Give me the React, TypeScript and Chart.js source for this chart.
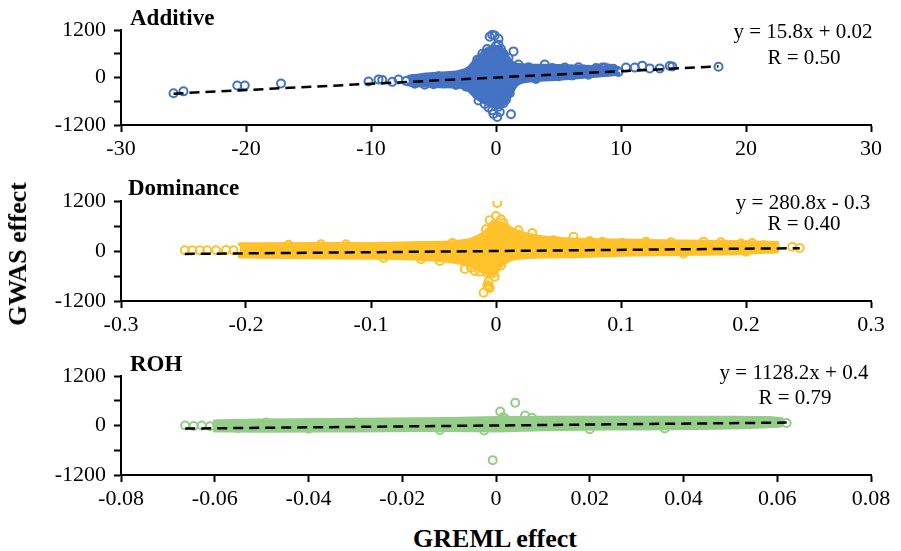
import React, { useEffect, useRef } from "react";
import { Chart, registerables } from "chart.js";

Chart.register(...registerables);

type Pt = [number, number];

const serif = "'Liberation Serif', 'Times New Roman', Times, serif";
Chart.defaults.font.family = serif;

// GWAS effect axis, shared by the three panels
const gwasTicks = [-1200, -600, 0, 600, 1200];
const gwasLabelled = [-1200, 0, 1200];

// ---------------- Additive ----------------
const additiveXTicks = [-30, -20, -10, 0, 10, 20, 30];
const additiveSlope = 15.8;
const additiveIntercept = 0.02;
const additiveR = 0.5;
const additivePoints: Pt[] = [
  [-25.8, -400], [-25.0, -350], [-20.7, -200], [-20.1, -200], [-17.2, -150],
  [-10.2, -100], [-9.4, -50], [-9.1, -60], [-8.3, -110], [-7.8, -50], [-7.2, -90],
  [-6.6, -40], [-6.5, -160], [-6.0, -60], [-5.7, -180], [-5.3, -20], [-5.0, -170],
  [-4.6, 30], [-4.2, -150], [-3.6, 40], [-3.2, -190], [-2.6, 80], [-2.4, -230],
  [-0.5, 1030], [-0.3, 1080], [-0.1, 1060], [0.2, 980], [0.2, 830], [1.4, 660],
  [-1.1, 600], [0.6, 600], [-0.7, 720], [0.0, 800], [0.4, 720], [-1.5, 450], [1.0, 500],
  [0.1, -1000], [1.2, -930], [-0.6, -760], [0.2, -740], [1.1, -400], [-1.4, -580],
  [-0.3, -830], [0.3, -870], [-0.9, -670], [0.6, -650], [0.8, -560], [-1.1, -480], [-0.2, -920],
  [1.8, 330], [2.6, 260], [3.2, -40], [3.9, 330], [4.5, 240], [5.0, 30], [5.5, 250],
  [6.1, 50], [6.6, 260], [7.0, 200], [7.4, 70], [8.0, 240], [8.2, 220], [8.5, 250],
  [8.7, 250], [9.0, 230], [9.4, 220], [9.8, 140], [10.4, 250], [11.1, 250], [11.7, 300],
  [12.3, 230], [13.1, 230], [13.9, 290], [14.1, 280], [17.8, 270],
];
// dense core of the cloud: x, upper edge, lower edge
const additiveCoreX = [-7.0, -6.0, -4.5, -3.0, -2.2, -1.7, -1.2, -0.7, -0.2, 0.3, 0.8, 1.2, 1.7, 3.0, 5.0, 7.0, 9.0, 9.8];
const additiveCoreHigh = [20, 60, 100, 140, 240, 420, 580, 720, 780, 760, 580, 400, 320, 300, 290, 270, 250, 240];
const additiveCoreLow = [-180, -200, -220, -230, -320, -470, -580, -660, -720, -720, -620, -400, -170, -70, -30, 20, 70, 100];

// ---------------- Dominance ----------------
const dominanceXTicks = [-0.3, -0.2, -0.1, 0, 0.1, 0.2, 0.3];
const dominanceSlope = 280.8;
const dominanceIntercept = -0.3;
const dominanceR = 0.4;
const dominancePoints: Pt[] = [
  [-0.249, 20], [-0.243, 20], [-0.237, 20], [-0.231, 20], [-0.224, 20], [-0.216, 25], [-0.21, 20],
  [-0.166, 150], [-0.14, 160], [-0.12, 160], [-0.09, -170], [-0.06, -200], [-0.045, -240], [-0.035, 190],
  [0.001, 1150], [0.0, 840], [-0.005, 740], [0.006, 670], [0.003, 580], [-0.002, 620], [0.004, 760],
  [-0.008, 520], [0.01, 450],
  [0.018, 500], [0.029, 430], [0.046, 260], [0.062, 340], [0.075, 240], [0.085, 220], [0.094, -40],
  [0.101, 200], [0.12, 220], [0.14, 210], [0.166, 220], [0.18, 210], [0.196, 180], [0.205, 190],
  [0.214, 140], [0.223, 120], [0.237, 100], [0.243, 70], [0.2, -20], [0.15, -60],
  [-0.01, -1000], [-0.006, -860], [-0.007, -820], [-0.005, -890], [-0.006, -740], [-0.001, -620],
  [-0.025, -430], [-0.017, -480], [-0.013, -500], [-0.007, -530], [-0.002, -530], [-0.001, -380],
  [-0.02, -400], [0.004, -350],
];
const dominanceCoreX = [-0.205, -0.15, -0.1, -0.06, -0.035, -0.02, -0.01, -0.004, 0.0, 0.005, 0.012, 0.02, 0.04, 0.07, 0.1, 0.15, 0.2, 0.225];
const dominanceCoreHigh = [160, 170, 170, 190, 210, 270, 420, 580, 660, 660, 540, 440, 320, 270, 250, 230, 210, 190];
const dominanceCoreLow = [-130, -150, -160, -190, -250, -350, -500, -580, -500, -320, -200, -160, -130, -120, -90, -70, -40, -10];

// ---------------- ROH ----------------
const rohXTicks = [-0.08, -0.06, -0.04, -0.02, 0, 0.02, 0.04, 0.06, 0.08];
const rohSlope = 1128.2;
const rohIntercept = 0.4;
const rohR = 0.79;
const rohPoints: Pt[] = [
  [-0.0663, 0], [-0.0645, -10], [-0.0628, 0], [-0.061, -20], [-0.0595, 10], [-0.055, -60],
  [-0.049, 70], [-0.04, -80], [-0.03, 70], [-0.012, -110], [-0.0025, -120],
  [0.0009, 340], [0.0015, 200], [0.0019, 170], [0.0041, 550], [0.0062, 240], [0.0077, 190],
  [-0.0007, -840], [0.02, -90], [0.036, -70], [0.045, 80], [0.0553, 100], [0.06, 70], [0.062, 60],
];
const rohCoreX = [-0.06, -0.05, -0.03, -0.01, 0.0, 0.01, 0.03, 0.05, 0.058, 0.061];
const rohCoreHigh = [100, 120, 140, 160, 180, 190, 190, 190, 180, 150];
const rohCoreLow = [-120, -130, -120, -110, -120, -90, -70, -50, -20, 0];

interface PanelSpec {
  name: string;
  color: string;
  xTicks: number[];
  slope: number;
  intercept: number;
  r: number;
  points: Pt[];
  coreX: number[];
  coreHigh: number[];
  coreLow: number[];
}

const panels: PanelSpec[] = [
  {
    name: "Additive", color: "#4472C4", xTicks: additiveXTicks, slope: additiveSlope,
    intercept: additiveIntercept, r: additiveR, points: additivePoints,
    coreX: additiveCoreX, coreHigh: additiveCoreHigh, coreLow: additiveCoreLow,
  },
  {
    name: "Dominance", color: "#FFC22B", xTicks: dominanceXTicks, slope: dominanceSlope,
    intercept: dominanceIntercept, r: dominanceR, points: dominancePoints,
    coreX: dominanceCoreX, coreHigh: dominanceCoreHigh, coreLow: dominanceCoreLow,
  },
  {
    name: "ROH", color: "#94CD88", xTicks: rohXTicks, slope: rohSlope,
    intercept: rohIntercept, r: rohR, points: rohPoints,
    coreX: rohCoreX, coreHigh: rohCoreHigh, coreLow: rohCoreLow,
  },
];

const equation = (s: PanelSpec) =>
  `y = ${s.slope}x ${s.intercept < 0 ? "-" : "+"} ${Math.abs(s.intercept)}`;

function PanelChart(props: { spec: PanelSpec; top: number; height: number; padTop: number; padBottom: number }) {
  const { spec, top, height, padTop, padBottom } = props;
  const ref = useRef<HTMLCanvasElement | null>(null);

  useEffect(() => {
    const canvas = ref.current;
    if (!canvas) return;
    const xs = spec.points.map((p) => p[0]);
    const x0 = Math.min(...xs);
    const x1 = Math.max(...xs);
    const fit = (x: number) => ({ x, y: spec.slope * x + spec.intercept });
    const tickFont = { family: serif, size: 22 };
    const axisGrid = {
      display: true, drawOnChartArea: false, drawTicks: true, tickLength: 7,
      tickWidth: 2, tickColor: "#000", color: "#000",
    };
    const axisBorder = { display: true, color: "#000", width: 2 };

    const chart = new Chart(canvas, {
      type: "scatter",
      data: {
        datasets: [
          {
            type: "line", data: [fit(x0), fit(x1)], borderColor: "#000", borderWidth: 2.5,
            borderDash: [10, 6], pointRadius: 0, showLine: true, fill: false, order: 0,
          },
          {
            type: "scatter", data: spec.points.map(([x, y]) => ({ x, y })), pointRadius: 4,
            pointBorderWidth: 2, borderWidth: 2, borderColor: spec.color, pointBorderColor: spec.color,
            backgroundColor: "rgba(255,255,255,0)", pointBackgroundColor: "rgba(255,255,255,0)", order: 1,
          },
          {
            type: "line", data: spec.coreX.map((x, i) => ({ x, y: spec.coreHigh[i] })),
            borderColor: spec.color, backgroundColor: spec.color, borderWidth: 4, pointRadius: 0,
            showLine: true, fill: "+1", cubicInterpolationMode: "monotone", order: 2,
            borderJoinStyle: "round", borderCapStyle: "round",
          },
          {
            type: "line", data: spec.coreX.map((x, i) => ({ x, y: spec.coreLow[i] })),
            borderColor: spec.color, backgroundColor: spec.color, borderWidth: 4, pointRadius: 0,
            showLine: true, fill: false, cubicInterpolationMode: "monotone", order: 3,
            borderJoinStyle: "round", borderCapStyle: "round",
          },
        ],
      } as any,
      options: {
        responsive: false,
        animation: false,
        events: [],
        font: { family: serif },
        layout: { padding: { left: 0, right: 30, top: padTop, bottom: padBottom } },
        plugins: { legend: { display: false }, tooltip: { enabled: false }, title: { display: false } },
        scales: {
          x: {
            type: "linear",
            min: spec.xTicks[0],
            max: spec.xTicks[spec.xTicks.length - 1],
            afterBuildTicks: (s: any) => { s.ticks = spec.xTicks.map((v) => ({ value: v })); },
            afterFit: (s: any) => { s.height = 40; },
            ticks: {
              color: "#000", font: tickFont, padding: 4, maxRotation: 0, autoSkip: false,
              callback: (v: any) => String(v),
            },
            grid: axisGrid,
            border: axisBorder,
          },
          y: {
            type: "linear",
            min: gwasTicks[0],
            max: gwasTicks[gwasTicks.length - 1],
            afterBuildTicks: (s: any) => { s.ticks = gwasTicks.map((v) => ({ value: v })); },
            afterFit: (s: any) => { s.width = 121; },
            ticks: {
              color: "#000", font: tickFont, padding: 8, autoSkip: false,
              callback: (v: any) => (gwasLabelled.includes(Number(v)) ? String(v) : ""),
            },
            grid: axisGrid,
            border: axisBorder,
          },
        },
      } as any,
    });
    return () => chart.destroy();
  }, [spec, padTop, padBottom]);

  return (
    <canvas
      ref={ref}
      width={901}
      height={height}
      style={{ position: "absolute", left: 0, top, width: 901, height }}
    />
  );
}

function TextAt(props: {
  x: number; baseline: number; size: number; bold?: boolean; align?: "left" | "center"; children: React.ReactNode;
}) {
  const { x, baseline, size, bold, align, children } = props;
  return (
    <div
      style={{
        position: "absolute",
        left: x,
        top: baseline - 0.8375 * size,
        fontFamily: serif,
        fontSize: size,
        lineHeight: `${size}px`,
        fontWeight: bold ? "bold" : "normal",
        whiteSpace: "nowrap",
        color: "#000",
        transform: align === "center" ? "translateX(-50%)" : undefined,
      }}
    >
      {children}
    </div>
  );
}

// canvas placement of each panel: top, height, chart-area padding
const frames = [
  { top: 0, height: 170, padTop: 30, padBottom: 5, titleX: 130, titleBase: 25, eqX: 803, eqBase: 39, rBase: 65 },
  { top: 170, height: 175, padTop: 31, padBottom: 4, titleX: 128, titleBase: 195, eqX: 803, eqBase: 210, rBase: 231 },
  { top: 345, height: 175, padTop: 31, padBottom: 5, titleX: 130, titleBase: 371, eqX: 794, eqBase: 380, rBase: 405 },
];

export default function App() {
  return (
    <div
      style={{
        position: "absolute", left: 0, top: 0, width: 901, height: 551,
        background: "#fff", overflow: "hidden",
      }}
    >
      {panels.map((spec, i) => (
        <PanelChart
          key={spec.name}
          spec={spec}
          top={frames[i].top}
          height={frames[i].height}
          padTop={frames[i].padTop}
          padBottom={frames[i].padBottom}
        />
      ))}
      {panels.map((spec, i) => (
        <React.Fragment key={spec.name + "-text"}>
          <TextAt x={frames[i].titleX} baseline={frames[i].titleBase} size={23} bold>
            {spec.name}
          </TextAt>
          <TextAt x={frames[i].eqX} baseline={frames[i].eqBase} size={21} align="center">
            {equation(spec)}
          </TextAt>
          <TextAt x={frames[i].eqX + 1} baseline={frames[i].rBase} size={21} align="center">
            {`R = ${spec.r.toFixed(2)}`}
          </TextAt>
        </React.Fragment>
      ))}
      <TextAt x={495} baseline={548} size={26} bold align="center">
        GREML effect
      </TextAt>
      <div
        style={{
          position: "absolute", left: 18, top: 254,
          transform: "translate(-50%, -50%) rotate(-90deg)",
          fontFamily: serif, fontSize: 26, lineHeight: "26px", fontWeight: "bold",
          whiteSpace: "nowrap", color: "#000",
        }}
      >
        GWAS effect
      </div>
    </div>
  );
}
